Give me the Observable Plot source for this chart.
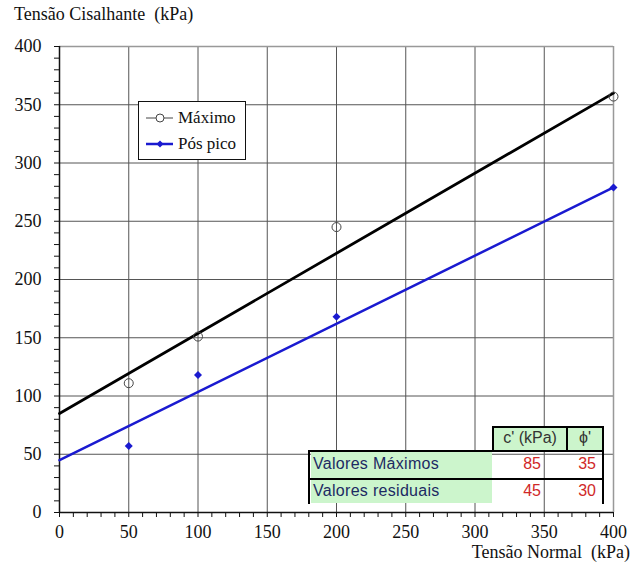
<!DOCTYPE html>
<html>
<head>
<meta charset="utf-8">
<script src="https://cdn.jsdelivr.net/npm/d3@7"></script>
<script src="https://cdn.jsdelivr.net/npm/@observablehq/plot@0.6"></script>
<style>
body{margin:0;background:#fff;}
#wrap{position:relative;width:635px;height:572px;font-family:"Liberation Serif","Times New Roman",serif;}
#wrap svg{position:absolute;left:0;top:0;}
#wrap svg, #wrap svg text{font-family:"Liberation Serif","Times New Roman",serif !important;}
.abs{position:absolute;font-family:"Liberation Serif","Times New Roman",serif;}
.tbl{font-family:"Liberation Sans",Arial,sans-serif !important;font-size:16px;}
</style>
</head>
<body>
<div id="wrap"></div>
<script>
// ---- data ----
const normalStress = [50, 100, 200, 400];
const maxShear = [111, 151, 245, 357];
const postPeakShear = [57, 118, 168, 279];
const fitX = [0, 400];
const fitMax = [85, 360];
const fitRes = [45, 279];
const seriesNames = ["Máximo", "Pós pico"];
const tableCols = ["c' (kPa)", "ϕ'"];
const tableRows = ["Valores Máximos", "Valores residuais"];
const cValues = [85, 45];
const phiValues = [35, 30];
const majorTicks = [0, 50, 100, 150, 200, 250, 300, 350, 400];

const minor = d3.range(0, 401, 10);
const ptsMax = normalStress.map((x, i) => ({x, y: maxShear[i]}));
const ptsRes = normalStress.map((x, i) => ({x, y: postPeakShear[i]}));
const lnMax = fitX.map((x, i) => ({x, y: fitMax[i]}));
const lnRes = fitX.map((x, i) => ({x, y: fitRes[i]}));

const fmt = d => (d % 50 === 0 ? String(d) : "");
const serif = "'Liberation Serif','Times New Roman',serif";

const chart = Plot.plot({
  width: 635,
  height: 572,
  marginLeft: 59,
  marginRight: 22,
  marginTop: 46,
  marginBottom: 60,
  style: {fontFamily: serif, fontSize: "18px", background: "transparent", color: "#111"},
  x: {domain: [0, 400]},
  y: {domain: [0, 400]},
  marks: [
    Plot.gridX(majorTicks.filter(d => d > 0 && d < 400), {stroke: "#555", strokeOpacity: 1}),
    Plot.gridY(majorTicks.filter(d => d > 0 && d < 400), {stroke: "#555", strokeOpacity: 1}),
    Plot.ruleX([400], {stroke: "#999", strokeWidth: 1.5}),
    Plot.ruleY([400], {stroke: "#999", strokeWidth: 1.5}),
    Plot.axisX(minor, {tickSize: 5, tickPadding: 8, tickFormat: fmt, label: null, stroke: "#111", fontSize: 18, fontFamily: serif, fill: "#111"}),
    Plot.axisY(minor, {tickSize: 5, tickPadding: 13, tickFormat: fmt, label: null, stroke: "#111", fontSize: 18, fontFamily: serif, fill: "#111"}),
    Plot.ruleX([0], {stroke: "#111", strokeWidth: 1.5}),
    Plot.ruleY([0], {stroke: "#111", strokeWidth: 1.5}),
    Plot.line(lnMax, {x: "x", y: "y", stroke: "#000", strokeWidth: 2.8}),
    Plot.line(lnRes, {x: "x", y: "y", stroke: "#1a1ad0", strokeWidth: 2.5}),
    Plot.dot(ptsMax, {x: "x", y: "y", r: 4.5, stroke: "#444", strokeWidth: 1, fill: "none"}),
    Plot.dot(ptsRes, {x: "x", y: "y", r: 3.6, symbol: "diamond2", fill: "#1a1ad0", stroke: "none"})
  ]
});
const wrap = document.getElementById("wrap");
wrap.appendChild(chart);

function add(html, style, cls) {
  const d = document.createElement("div");
  d.className = "abs " + (cls || "");
  d.innerHTML = html;
  Object.assign(d.style, style);
  wrap.appendChild(d);
  return d;
}
// title & x label
add("Tensão Cisalhante&nbsp; (kPa)", {left: "14px", top: "5px", fontSize: "18px", lineHeight: "18px", color: "#111"});
add("Tensão Normal&nbsp; (kPa)", {right: "5px", top: "543px", fontSize: "18px", lineHeight: "18px", color: "#111"});

// legend
const leg = add("", {left: "138px", top: "101px", width: "106px", height: "57px", border: "1px solid #111", background: "#fff"});
leg.innerHTML =
  `<svg width="40" height="57" style="position:absolute;left:0;top:0">
     <line x1="7" x2="34" y1="16" y2="16" stroke="#444" stroke-width="1"/>
     <circle cx="21" cy="16" r="4" fill="#fff" stroke="#444"/>
     <line x1="7" x2="34" y1="42" y2="42" stroke="#1a1ad0" stroke-width="2.5"/>
     <path d="M21,38.5 L24.5,42 L21,45.5 L17.5,42Z" fill="#1a1ad0"/>
   </svg>
   <div class="abs" style="left:39px;top:6px;font-size:17px;color:#111">${seriesNames[0]}</div>
   <div class="abs" style="left:39px;top:32px;font-size:17px;color:#111">${seriesNames[1]}</div>`;

// table
const green = "#ccf5cc";
add("", {left: "493px", top: "427px", width: "110px", height: "24px", background: green});
add("", {left: "311px", top: "452px", width: "181px", height: "26px", background: green});
add("", {left: "311px", top: "480px", width: "181px", height: "23px", background: green});
const bk = "#000";
// borders
add("", {left: "492px", top: "426px", width: "112px", height: "2px", background: bk});
add("", {left: "308px", top: "450px", width: "296px", height: "2px", background: bk});
add("", {left: "308px", top: "478px", width: "296px", height: "2px", background: bk});
add("", {left: "308px", top: "450px", width: "2px", height: "54px", background: bk});
add("", {left: "492px", top: "426px", width: "2px", height: "26px", background: bk});
add("", {left: "566px", top: "426px", width: "2px", height: "26px", background: bk});
add("", {left: "602px", top: "426px", width: "2px", height: "78px", background: bk});
// header text
add(tableCols[0], {left: "494px", top: "429px", width: "72px", textAlign: "center", color: "#333"}, "tbl");
add(tableCols[1], {left: "568px", top: "429px", width: "34px", textAlign: "center", color: "#333"}, "tbl");
// rows
tableRows.forEach((r, i) => {
  const top = 455 + i * 27;
  add(r, {left: "313px", top: top + "px", color: "#1c2a63", letterSpacing: "0.3px"}, "tbl");
  add(String(cValues[i]), {left: "494px", top: top + "px", width: "47px", textAlign: "right", color: "#d02828"}, "tbl");
  add(String(phiValues[i]), {left: "568px", top: top + "px", width: "28px", textAlign: "right", color: "#d02828"}, "tbl");
});
</script>
</body>
</html>
